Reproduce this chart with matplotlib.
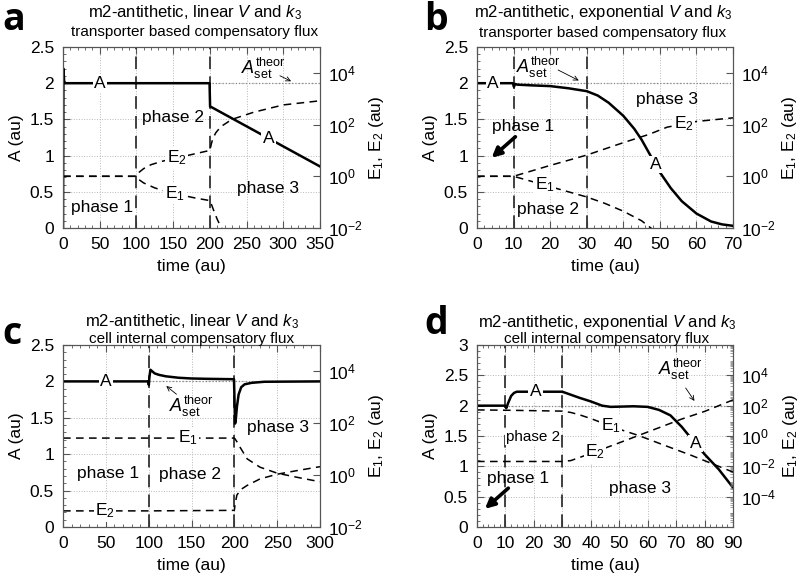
import numpy as np
import matplotlib
matplotlib.use('Agg')
import matplotlib.pyplot as plt
from matplotlib.ticker import MultipleLocator, NullLocator, FixedLocator, FuncFormatter, LogLocator

plt.rcParams['font.family'] = ['Liberation Sans', 'DejaVu Sans']
plt.rcParams['mathtext.fontset'] = 'custom'
plt.rcParams['mathtext.rm'] = 'Liberation Sans'
plt.rcParams['mathtext.it'] = 'Liberation Sans:italic'
plt.rcParams['mathtext.bf'] = 'Liberation Sans:bold'

# ---- panel a: linear V and k3, transporter based ----
a_tA = [0, 0.6, 1.5, 3, 199.6, 200.3, 350]
a_A = [0, 2.2, 2.03, 2.0, 2.0, 1.68, 0.85]
a_tE1 = [0, 100, 103, 110, 125, 140, 160, 180, 200, 203, 206, 210, 214, 218]
a_E1_log10 = [0, 0, -0.12, -0.26, -0.45, -0.58, -0.72, -0.84, -0.94, -1.15, -1.38, -1.66, -1.9, -2.1]
a_tE2 = [0, 100, 103, 110, 120, 135, 150, 175, 200, 202, 204, 208, 215, 230, 260, 300, 350]
a_E2_log10 = [0, 0, 0.14, 0.3, 0.45, 0.58, 0.68, 0.84, 1.0, 1.25, 1.45, 1.68, 1.92, 2.2, 2.48, 2.76, 2.92]

# ---- panel b: exponential V and k3, transporter based ----
b_tA = [0, 9.8, 10.1, 10.4, 11, 15, 20, 25, 30, 33, 36, 40, 43, 45, 48, 50, 53, 56, 60, 64, 67, 70]
b_A = [2.0, 2.0, 1.95, 1.99, 1.98, 1.97, 1.96, 1.93, 1.89, 1.83, 1.73, 1.55, 1.37, 1.22, 0.95, 0.77, 0.55, 0.37, 0.2, 0.09, 0.05, 0.03]
b_tE1 = [0, 10, 15, 20, 25, 30, 35, 40, 45, 48]
b_E1_log10 = [0, 0, -0.2, -0.4, -0.6, -0.8, -1.05, -1.35, -1.72, -2.05]
b_tE2 = [0, 10, 20, 30, 40, 47, 52, 60, 70]
b_E2_log10 = [0, 0, 0.42, 0.82, 1.3, 1.62, 1.9, 2.12, 2.26]

# ---- panel c: linear V and k3, cell internal ----
c_tA = [0, 99.6, 100.2, 100.8, 102, 104, 107, 112, 120, 135, 150, 170, 199.6, 200.2, 200.8, 201.5, 203, 205, 208, 212, 220, 235, 300]
c_A = [2.0, 2.0, 1.95, 2.05, 2.16, 2.14, 2.11, 2.09, 2.07, 2.05, 2.04, 2.035, 2.03, 1.75, 1.42, 1.45, 1.65, 1.82, 1.92, 1.96, 1.98, 1.995, 2.0]
c_tE1 = [0, 200, 201, 203, 207, 215, 230, 250, 275, 300]
c_E1_log10 = [1.42, 1.42, 1.38, 1.28, 1.05, 0.62, 0.3, 0.07, -0.1, -0.26]
c_tE2 = [0, 100, 200, 201, 203, 208, 215, 230, 250, 275, 300]
c_E2_log10 = [-1.38, -1.38, -1.36, -1.1, -0.77, -0.55, -0.4, -0.15, 0.03, 0.18, 0.32]

# ---- panel d: exponential V and k3, cell internal ----
d_tA = [0, 9.8, 10.3, 11, 12, 13, 14, 30, 33, 36, 40, 44, 47, 55, 60, 64, 68, 72, 76, 80, 85, 90]
d_A = [2.0, 2.0, 1.96, 2.05, 2.16, 2.21, 2.23, 2.23, 2.18, 2.13, 2.07, 2.0, 1.98, 1.99, 1.98, 1.93, 1.84, 1.65, 1.42, 1.2, 0.95, 0.65]
d_tE1 = [0, 10, 30, 33, 36, 40, 45, 50, 57, 65, 75, 85, 90]
d_E1_log10 = [1.72, 1.7, 1.64, 1.55, 1.4, 1.15, 0.8, 0.45, 0.02, -0.55, -1.25, -2.0, -2.38]
d_tE2 = [0, 30, 33, 36, 40, 45, 50, 57, 65, 72, 80, 90]
d_E2_log10 = [-1.68, -1.68, -1.62, -1.42, -1.15, -0.8, -0.45, 0.05, 0.62, 1.12, 1.62, 2.38]

W, H = 800, 580
fig = plt.figure(figsize=(8, 5.8), dpi=100)


def px_axes(x0, y0, x1, y1):
    return fig.add_axes([x0 / W, 1 - y1 / H, (x1 - x0) / W, (y1 - y0) / H])


def setup(ax, ax2, xmax, xmaj, xmin, ymax, elim, eticks, eminor=False):
    ax.set_xlim(0, xmax)
    ax.set_ylim(0, ymax)
    ax.xaxis.set_major_locator(MultipleLocator(xmaj))
    ax.xaxis.set_minor_locator(MultipleLocator(xmin))
    ax.yaxis.set_major_locator(MultipleLocator(0.5))
    ax.yaxis.set_minor_locator(MultipleLocator(0.1))
    ax.yaxis.set_major_formatter(FuncFormatter(lambda v, p: f'{v:g}'))
    ax.grid(True, which='major', ls=':', color='#b8b8b8', lw=0.7)
    ax.set_axisbelow(True)
    ax.tick_params(which='both', direction='in', top=True, right=False, labelsize=12.5,
                   color='#555555')
    ax.tick_params(which='major', length=5, width=0.8)
    ax.tick_params(which='minor', length=2.5, width=0.6)
    ax.tick_params(axis='y', pad=6.5)
    ax.tick_params(axis='x', pad=6.5)
    ax2.set_yscale('log')
    ax2.set_ylim(*elim)
    ax2.yaxis.set_major_locator(FixedLocator(eticks))
    ax2.set_yticklabels(['10$^{%d}$' % int(round(np.log10(e))) for e in eticks])
    if eminor:
        ax2.yaxis.set_minor_locator(LogLocator(base=10, subs=np.arange(2, 10), numticks=100))
        ax2.tick_params(which='minor', direction='in', length=2.5, width=0.5, color='#777777')
    else:
        ax2.yaxis.set_minor_locator(NullLocator())
    ax2.tick_params(which='major', direction='in', length=5, width=0.8, labelsize=12.5,
                    pad=6, color='#555555')
    for a in (ax, ax2):
        for s in a.spines.values():
            s.set_color('#555555')
            s.set_linewidth(0.8)
    ax.set_xlabel('time (au)', fontsize=12.5, labelpad=5)
    ax.set_ylabel('A (au)', fontsize=12.5, labelpad=4)
    ax2.set_ylabel(r'E$_1$, E$_2$ (au)', fontsize=12.5, labelpad=3)


def lab(ax, x, y, s, size=12.5):
    ax.text(x, y, s, ha='center', va='center', fontsize=size,
            bbox=dict(fc='white', ec='none', pad=1.0), zorder=4)


def phase_lines(ax, xs):
    for x in xs:
        ax.axvline(x, color='#333333', ls=(0, (7, 4)), lw=1.3, zorder=2)


def aset_line(ax, x0):
    ax.plot([x0, ax.get_xlim()[1]], [2.0, 2.0], color='#888888', ls=':', lw=0.9, zorder=1.8)


def aset_text(ax, tx, ty, ax_from, ax_to):
    ax.text(tx, ty, r'$A_{\mathrm{set}}^{\mathrm{theor}}$', ha='center', va='center', fontsize=13, zorder=4)
    ax.annotate('', xy=ax_to, xytext=ax_from,
                arrowprops=dict(arrowstyle='->', lw=0.6, color='k', mutation_scale=8))


def big_arrow(ax, frm, to):
    ax.annotate('', xy=to, xytext=frm,
                arrowprops=dict(arrowstyle='-|>', lw=2.6, color='k', mutation_scale=14,
                                shrinkA=0, shrinkB=0))


def draw_E(ax2, t1, e1, t2, e2):
    ax2.plot(t1, 10 ** np.array(e1), color='k', ls=(0, (5, 3.5)), lw=1.1)
    ax2.plot(t2, 10 ** np.array(e2), color='k', ls=(0, (5, 3.5)), lw=1.1)


def onE(t, ts, es):
    return 10 ** np.interp(t, ts, es)


def title(cx, y1, y2, l1, l2, letter, lx, ly):
    fig.text(cx / W, 1 - y1 / H, l1, ha='center', va='center', fontsize=12)
    fig.text(cx / W, 1 - y2 / H, l2, ha='center', va='center', fontsize=11)
    fig.text(lx / W, 1 - ly / H, letter, ha='left', va='top', fontsize=27,
             fontweight='bold', family=['Open Sans', 'DejaVu Sans'])


# ===== panel a =====
ax = px_axes(63, 47, 320, 228)
ax2 = ax.twinx()
setup(ax, ax2, 350, 50, 10, 2.5, (1e-2, 1e5), [1e-2, 1, 1e2, 1e4])
phase_lines(ax, [100, 200])
aset_line(ax, 0)
ax.plot(a_tA, a_A, color='k', lw=1.8, zorder=3)
draw_E(ax2, a_tE1, a_E1_log10, a_tE2, a_E2_log10)
lab(ax, 50, np.interp(50, a_tA, a_A), 'A')
lab(ax, 280, np.interp(280, a_tA, a_A), 'A')
lab(ax2, 155, onE(155, a_tE2, a_E2_log10), r'E$_2$')
lab(ax2, 152, onE(152, a_tE1, a_E1_log10), r'E$_1$')
ax.text(150, 1.52, 'phase 2', ha='center', va='center', fontsize=12.5)
ax.text(53, 0.28, 'phase 1', ha='center', va='center', fontsize=12.5)
ax.text(279, 0.55, 'phase 3', ha='center', va='center', fontsize=12.5)
aset_text(ax, 273, 2.2, (292, 2.12), (314, 2.01))
title(195, 13, 32, r'm2-antithetic, linear $V$ and $k_3$', 'transporter based compensatory flux', 'a', 2, 1)

# ===== panel b =====
ax = px_axes(477, 47, 733, 228)
ax2 = ax.twinx()
setup(ax, ax2, 70, 10, 2, 2.5, (1e-2, 1e5), [1e-2, 1, 1e2, 1e4])
phase_lines(ax, [10, 30])
aset_line(ax, 10)
ax.plot(b_tA, b_A, color='k', lw=1.8, zorder=3)
draw_E(ax2, b_tE1, b_E1_log10, b_tE2, b_E2_log10)
lab(ax, 4.4, 2.0, 'A')
lab(ax, 48.8, np.interp(48.8, b_tA, b_A), 'A')
lab(ax2, 56.5, onE(56.5, b_tE2, b_E2_log10), r'E$_2$')
lab(ax2, 18.5, onE(18.5, b_tE1, b_E1_log10), r'E$_1$')
ax.text(12.5, 1.4, 'phase 1', ha='center', va='center', fontsize=12.5)
big_arrow(ax, (10.5, 1.26), (4.0, 0.97))
ax.text(19.4, 0.25, 'phase 2', ha='center', va='center', fontsize=12.5)
ax.text(52, 1.77, 'phase 3', ha='center', va='center', fontsize=12.5)
aset_text(ax, 16.8, 2.22, (21.5, 2.2), (28.5, 2.02))
title(603, 13, 33, r'm2-antithetic, exponential $V$ and $k_3$', 'transporter based compensatory flux', 'b', 424, 1)

# ===== panel c =====
ax = px_axes(63, 345, 320, 527)
ax2 = ax.twinx()
setup(ax, ax2, 300, 50, 10, 2.5, (1e-2, 1e5), [1e-2, 1, 1e2, 1e4])
phase_lines(ax, [100, 200])
aset_line(ax, 100)
ax.plot(c_tA, c_A, color='k', lw=1.8, zorder=3)
draw_E(ax2, c_tE1, c_E1_log10, c_tE2, c_E2_log10)
lab(ax, 50, 2.0, 'A')
lab(ax2, 146, onE(146, c_tE1, c_E1_log10), r'E$_1$')
lab(ax2, 49, onE(49, c_tE2, c_E2_log10), r'E$_2$')
ax.text(53, 0.74, 'phase 1', ha='center', va='center', fontsize=12.5)
ax.text(148, 0.72, 'phase 2', ha='center', va='center', fontsize=12.5)
ax.text(251, 1.36, 'phase 3', ha='center', va='center', fontsize=12.5)
aset_text(ax, 150, 1.66, (135, 1.8), (118, 1.96))
title(192, 322, 339, r'm2-antithetic, linear $V$ and $k_3$', 'cell internal compensatory flux', 'c', 2, 315)

# ===== panel d =====
ax = px_axes(477, 345, 733, 527)
ax2 = ax.twinx()
setup(ax, ax2, 90, 10, 2, 3.0, (1e-6, 1e6), [1e-4, 1e-2, 1, 1e2, 1e4], eminor=True)
phase_lines(ax, [10, 30])
aset_line(ax, 10)
ax.plot(d_tA, d_A, color='k', lw=1.8, zorder=3)
draw_E(ax2, d_tE1, d_E1_log10, d_tE2, d_E2_log10)
lab(ax, 20.5, np.interp(20.5, d_tA, d_A), 'A')
lab(ax, 76.8, np.interp(76.8, d_tA, d_A), 'A')
lab(ax2, 47, onE(47, d_tE1, d_E1_log10), r'E$_1$')
lab(ax2, 41.5, onE(41.5, d_tE2, d_E2_log10), r'E$_2$')
ax.text(14.5, 0.8, 'phase 1', ha='center', va='center', fontsize=12.5)
big_arrow(ax, (11, 0.64), (2.8, 0.3))
ax.text(19.8, 1.48, 'phase 2', ha='center', va='center', fontsize=11,
        bbox=dict(fc='white', ec='none', pad=0.5))
ax.text(57.3, 0.64, 'phase 3', ha='center', va='center', fontsize=12.5)
aset_text(ax, 71.4, 2.6, (72.8, 2.33), (77, 2.04))
title(607, 322, 339, r'm2-antithetic, exponential $V$ and $k_3$', 'cell internal compensatory flux', 'd', 424, 305)

fig.savefig('out.png', dpi=100)
